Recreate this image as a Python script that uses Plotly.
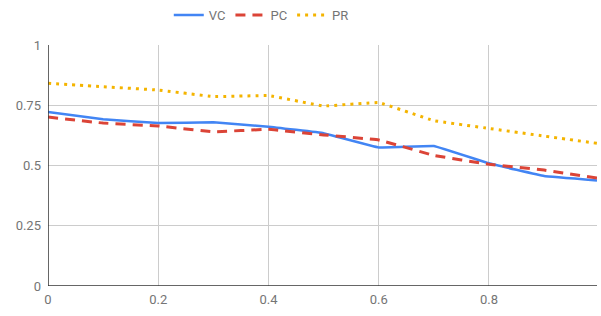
import plotly.graph_objects as go

x_vals = [0, 0.1, 0.2, 0.3, 0.4, 0.5, 0.6, 0.7, 0.8, 0.9, 0.996]
vc = [0.722, 0.692, 0.676, 0.679, 0.661, 0.634, 0.575, 0.581, 0.509, 0.456, 0.438]
pc = [0.701, 0.676, 0.664, 0.640, 0.650, 0.627, 0.606, 0.542, 0.505, 0.481, 0.448]
pr = [0.841, 0.827, 0.813, 0.786, 0.790, 0.747, 0.761, 0.686, 0.654, 0.622, 0.592]

y_ticks = [0, 0.25, 0.5, 0.75, 1]
y_tick_labels = ["0", "0.25", "0.5", "0.75", "1"]
x_ticks = [0, 0.2, 0.4, 0.6, 0.8]
x_tick_labels = ["0", "0.2", "0.4", "0.6", "0.8"]

fig = go.Figure()
fig.add_trace(go.Scatter(x=x_vals, y=vc, name="VC", mode="lines",
                         line=dict(color="#4285F4", width=2.5, shape="spline", smoothing=0.15)))
fig.add_trace(go.Scatter(x=x_vals, y=pc, name="PC", mode="lines",
                         line=dict(color="#DB4437", width=3, dash="10px,7px", shape="spline", smoothing=0.15)))
fig.add_trace(go.Scatter(x=x_vals, y=pr, name="PR", mode="lines",
                         line=dict(color="#F4B400", width=3, dash="3px,5px", shape="spline", smoothing=0.15)))

fig.update_layout(
    width=601, height=316,
    margin=dict(l=48, r=4, t=45, b=30),
    paper_bgcolor="white", plot_bgcolor="white",
    font=dict(family="Roboto", size=13, color="#757575"),
    legend=dict(orientation="h", x=0.22, xanchor="left", y=1.0, yanchor="top",
                yref="container", font=dict(size=13, color="#757575"),
                itemwidth=30),
    showlegend=True,
)
fig.update_xaxes(range=[0, 0.996], tickvals=x_ticks, ticktext=x_tick_labels,
                 showgrid=True, gridcolor="#CCCCCC", gridwidth=1, automargin=False,
                 zeroline=False, showline=False, ticks="", ticklabelstandoff=4)
fig.update_yaxes(range=[0, 1], tickvals=y_ticks, ticktext=y_tick_labels,
                 showgrid=True, gridcolor="#CCCCCC", gridwidth=1, automargin=False,
                 zeroline=False, showline=False, ticks="", ticklabelstandoff=6)
fig.add_shape(type="line", xref="paper", yref="y", x0=0, x1=1, y0=0, y1=0,
              line=dict(color="#333333", width=1.5))
fig.add_shape(type="line", xref="x", yref="paper", x0=0, x1=0, y0=0, y1=1,
              line=dict(color="#333333", width=1.5))

fig.write_html("out.html", config={"displayModeBar": False},
               post_script="document.body.style.margin='0';")
